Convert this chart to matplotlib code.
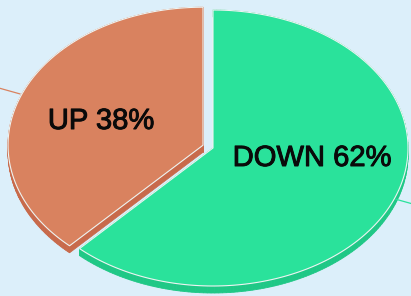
import numpy as np
import matplotlib.pyplot as plt
import matplotlib.patheffects as pe
from matplotlib.patches import Polygon

labels = ["DOWN", "UP"]
values = [62, 38]
top_colors = ["#2ae29b", "#d9825f"]
side_colors = ["#1fc886", "#c86a4b"]
explode = [0.0, 0.055]

# pie geometry in pixel space (image coords, y down)
cx, cy = 213, 148
rx, ry = 195, 138
depth = 7
start = 90.0

fig = plt.figure(figsize=(4.11, 2.96), dpi=100)
fig.patch.set_facecolor("#dceffa")
ax = fig.add_axes([0, 0, 1, 1])
ax.set_xlim(0, 411)
ax.set_ylim(296, 0)
ax.axis("off")

total = sum(values)
slices = []
a0 = start
for lab, v, ex in zip(labels, values, explode):
    a1 = a0 - v / total * 360.0
    mid = np.radians((a0 + a1) / 2)
    ox = cx + ex * rx * np.cos(mid)
    oy = cy - ex * ry * np.sin(mid)
    t = np.radians(np.linspace(a0, a1, 200))
    xs = ox + rx * np.cos(t)
    ys = oy - ry * np.sin(t)
    pts = np.vstack([[ox, oy], np.column_stack([xs, ys])])
    slices.append((pts, mid, ox, oy, lab, v))
    a0 = a1

# side walls
for (pts, mid, ox, oy, lab, v), sc in zip(slices, side_colors):
    n = len(pts)
    for i in range(n):
        p, q = pts[i], pts[(i + 1) % n]
        quad = [p, q, q + [0, depth], p + [0, depth]]
        ax.add_patch(Polygon(quad, closed=True, fc=sc, ec=sc, lw=0.6))

# top faces
for (pts, mid, ox, oy, lab, v), tc in zip(slices, top_colors):
    ax.add_patch(Polygon(pts, closed=True, fc=tc, ec="#eef4f2", lw=0.8, zorder=3))
    # leader line stub
    x1 = ox + 1.01 * rx * np.cos(mid)
    y1 = oy - 1.01 * ry * np.sin(mid)
    x2 = ox + 1.12 * rx * np.cos(mid)
    y2 = oy - 1.12 * ry * np.sin(mid)
    ax.plot([x1, x2], [y1, y2], color=tc, lw=0.9, zorder=2)

# labels
label_pos = {"DOWN": (312, 158), "UP": (101, 121)}
for pts, mid, ox, oy, lab, v in slices:
    x, y = label_pos[lab]
    ax.text(x, y, f"{lab} {v}%", ha="center", va="center", fontsize=21,
            family="Liberation Sans", color="#0a0a0a", zorder=5,
            path_effects=[pe.withStroke(linewidth=0.7, foreground="#0a0a0a")])

plt.savefig("out.png", dpi=100, facecolor=fig.get_facecolor())
